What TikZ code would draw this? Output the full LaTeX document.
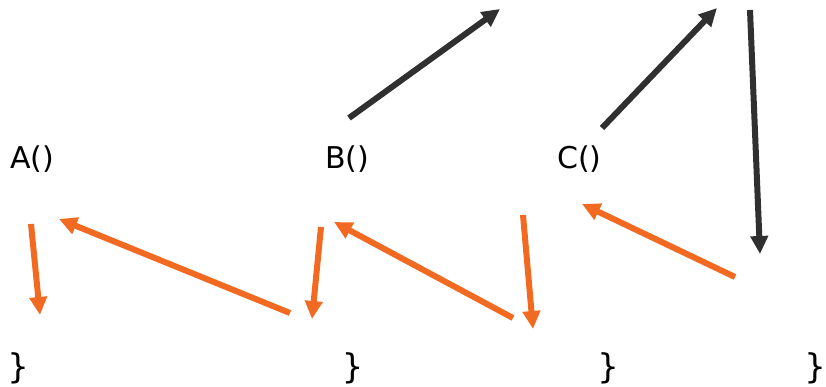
\documentclass[tikz,border=0pt]{standalone}
\usepackage{fontspec}
\setmainfont{DejaVu Sans}
\newfontfamily\monofam{DejaVu Sans Mono}
\usetikzlibrary{arrows.meta}
\definecolor{arrorange}{HTML}{F26A21}
\definecolor{arrdark}{HTML}{303030}
\tikzset{
  lbl/.style={inner sep=0pt, anchor=base west, font=\fontsize{30}{32}\selectfont},
  brc/.style={inner sep=0pt, anchor=center, font=\monofam\fontsize{34}{36}\selectfont},
  oarr/.style={draw=arrorange, line width=6pt, -{Triangle[length=18pt,width=17pt]}},
  darr/.style={draw=arrdark, line width=6pt, -{Triangle[length=18pt,width=17pt]}},
}
\begin{document}
\begin{tikzpicture}[x=1pt,y=-1pt]
\useasboundingbox (0,0) rectangle (826,387);
\node[lbl] (A) at (10,169) {A()};
\node[lbl] (B) at (325,169) {B()};
\node[lbl] (C) at (557,169) {C()};
\node[brc] (b1) at (18,368) {\}};
\node[brc] (b2) at (352.5,368) {\}};
\node[brc] (b3) at (608,368) {\}};
\node[brc] (b4) at (815,368) {\}};
% orange
\coordinate (a1s) at (31,224); \coordinate (a1e) at (40,315);
\coordinate (a2s) at (290,313); \coordinate (a2e) at (59,219);
\coordinate (b1s) at (321,227); \coordinate (b1e) at (312,319);
\coordinate (b2s) at (513,318); \coordinate (b2e) at (334,222);
\coordinate (b3s) at (523,215); \coordinate (b3e) at (533,329);
\coordinate (c1s) at (735,277); \coordinate (c1e) at (582,204);
% dark
\coordinate (d1s) at (349,118); \coordinate (d1e) at (500,9);
\coordinate (d2s) at (602,128); \coordinate (d2e) at (717,8);
\coordinate (d3s) at (750,10); \coordinate (d3e) at (760,254);
\draw[oarr] (a1s) -- (a1e);
\draw[oarr] (a2s) -- (a2e);
\draw[oarr] (b1s) -- (b1e);
\draw[oarr] (b2s) -- (b2e);
\draw[oarr] (b3s) -- (b3e);
\draw[oarr] (c1s) -- (c1e);
\draw[darr] (d1s) -- (d1e);
\draw[darr] (d2s) -- (d2e);
\draw[darr] (d3s) -- (d3e);
\end{tikzpicture}
\end{document}
